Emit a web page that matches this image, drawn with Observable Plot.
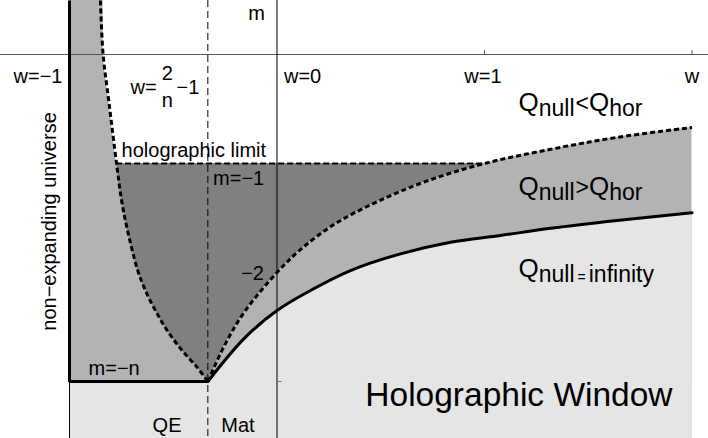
<!DOCTYPE html>
<html>
<head>
<meta charset="utf-8">
<script src="https://cdn.jsdelivr.net/npm/d3@7"></script>
<script src="https://cdn.jsdelivr.net/npm/@observablehq/plot@0.6"></script>
<style>
  html, body { margin: 0; padding: 0; background: #fff; }
  svg { display: block; }
</style>
</head>
<body>
<div id="chart"></div>
<script>
// ---------- data ----------
const nIndex = 3;                       // m = -n floor, w = 2/n - 1
const wEnd = 2;                         // right end of w axis
const holoM = -1;                       // holographic limit m = -1
const holoW = [-0.773, 1.0];            // where the limit meets the dashed curves

// left dashed boundary
const leftW = [-0.851, -0.838, -0.811, -0.773, -0.749, -0.717, -0.671, -0.634, -0.586, -0.529, -0.457, -0.385, -0.333];
const leftM = [0.495, 0.0, -0.422, -1.003, -1.339, -1.642, -1.982, -2.165, -2.349, -2.532, -2.716, -2.869, -3.0];

// right dashed boundary (Q_null = Q_hor)
const rightW = [-0.333, -0.256, -0.160, 0.0, 0.113, 0.274, 0.483, 0.724, 1.0, 1.318, 1.639, 2.0];
const rightM = [-3.0, -2.68, -2.37, -2.0, -1.79, -1.56, -1.35, -1.16, -1.0, -0.87, -0.76, -0.67];

// solid boundary (Q_null = infinity)
const solidW = [-0.333, -0.160, 0.0, 0.161, 0.354, 0.595, 0.836, 1.077, 1.318, 1.639, 2.0];
const solidM = [-3.0, -2.609, -2.349, -2.165, -1.982, -1.829, -1.722, -1.660, -1.595, -1.523, -1.452];

// axis ticks and labels
const wTicks = [-1, 0, 1, 2];
const wTickLabels = ["w=−1", "w=0", "w=1", "w"];
const mTicks = [-2, -3];
const mTickLabels = ["−2", ""];

// region labels (big Q, subscript, operator, big Q, subscript)
const regionLabels = [
  ["Q", "null", "<", "Q", "hor"],
  ["Q", "null", ">", "Q", "hor"],
  ["Q", "null", "=", "infinity"]
];

// ---------- derived tables ----------
const wQE = 2 / nIndex - 1;
const mFloor = -nIndex;
const left = leftW.map((w, i) => ({w, m: leftM[i]}));
const right = rightW.map((w, i) => ({w, m: rightM[i]}));
const solid = solidW.map((w, i) => ({w, m: solidM[i]}));

const X0 = -1.33253, X1 = 2.07952, Y0 = -3.52294, Y1 = 0.49541;
const floorEdge = [{w: -1, m: Y1}, {w: -1, m: mFloor}, {w: wQE, m: mFloor}];

const light = "#e5e5e5", mid = "#b3b3b3", dark = "#808080";
const FONT = "'Liberation Sans', Arial, Helvetica, sans-serif";
const CURVE = "catmull-rom";

const T = (txt, o) => Plot.text([txt], {text: d => d, fill: "#000", fontSize: 20, ...o});
const dashed = {stroke: "#000", strokeWidth: 3, strokeDasharray: "5,3", strokeLinecap: "butt", strokeLinejoin: "miter", curve: CURVE};

const chart = Plot.plot({
  width: 708,
  height: 438,
  margin: 0,
  x: {domain: [X0, X1], axis: null},
  y: {domain: [Y0, Y1], axis: null},
  style: {fontFamily: FONT, fontSize: "20px", background: "#fff", color: "#000"},
  marks: [
    // shaded regions
    Plot.rect([0], {x1: holoW[0], x2: holoW[1], y1: mFloor, y2: holoM, fill: dark}),
    Plot.rect([0], {x1: -1, x2: leftW[1], y1: mFloor, y2: Y1, fill: mid}),
    Plot.areaY(left, {x: "w", y1: mFloor, y2: "m", fill: mid, curve: CURVE}),
    Plot.areaY(right, {x: "w", y1: Y0, y2: "m", fill: mid, curve: CURVE}),
    Plot.rect([0], {x1: -1, x2: wEnd, y1: Y0, y2: mFloor, fill: light}),
    Plot.areaY(solid, {x: "w", y1: Y0, y2: "m", fill: light, curve: CURVE}),

    // axes
    Plot.ruleY([0], {stroke: "#555", strokeWidth: 1}),
    Plot.ruleX([0], {stroke: "#000", strokeWidth: 1}),
    Plot.ruleX([wQE], {stroke: "#000", strokeWidth: 1, strokeDasharray: "7,4"}),
    Plot.ruleX(wTicks.slice(2), {y1: 0, y2: 0.035, stroke: "#555"}),
    Plot.ruleY(mTicks.slice(1), {x1: 0, x2: 0.025, stroke: "#777"}),
    Plot.ruleX([-1], {y1: Y0, y2: mFloor, stroke: "#000", strokeWidth: 1}),

    // boundaries
    Plot.line(floorEdge, {x: "w", y: "m", stroke: "#000", strokeWidth: 3, strokeLinejoin: "miter", strokeLinecap: "butt"}),
    Plot.line(solid, {x: "w", y: "m", stroke: "#000", strokeWidth: 3, curve: CURVE}),
    Plot.line(left, {x: "w", y: "m", ...dashed}),
    Plot.line(right, {x: "w", y: "m", ...dashed}),
    Plot.ruleY([holoM], {x1: holoW[0], x2: holoW[1], stroke: "#000", strokeWidth: 1.8, strokeDasharray: "6,3", strokeLinecap: "butt"}),

    // axis labels
    T("m", {x: 0, y: 0.371, dx: -20.5, textAnchor: "middle"}),
    T(wTickLabels[0], {x: wTicks[0], y: -0.205, dx: -7, textAnchor: "end"}),
    T(wTickLabels[1], {x: wTicks[1], y: -0.205, dx: 7, textAnchor: "start"}),
    T(wTickLabels[2], {x: wTicks[2], y: -0.205, dx: -1.5, textAnchor: "middle"}),
    T(wTickLabels[3], {x: wTicks[3], y: -0.205, textAnchor: "middle"}),
    T(mTickLabels[0], {x: 0, y: mTicks[0], dx: -13, dy: 1, textAnchor: "end"}),

    // annotations
    T("w=", {x: -0.706, y: -0.302, textAnchor: "start"}),
    T("2", {x: -0.529, y: -0.171, textAnchor: "middle"}),
    T("n", {x: -0.529, y: -0.425, textAnchor: "middle"}),
    T("−1", {x: -0.484, y: -0.302, textAnchor: "start"}),
    T("holographic limit", {x: -0.749, y: -0.883, textAnchor: "start"}),
    T("m=−1", {x: -0.308, y: -1.134, textAnchor: "start"}),
    T("m=−n", {x: -0.908, y: -2.886, textAnchor: "start"}),
    T("QE", {x: -0.530, y: -3.40, textAnchor: "middle"}),
    T("Mat", {x: -0.188, y: -3.40, textAnchor: "middle"}),
    T("non−expanding universe", {x: -1.098, y: -1.532, rotate: -90, textAnchor: "middle"}),
    T(regionLabels[0].join(""), {x: 1.164, y: -0.438, fontSize: 26, textAnchor: "start"}),
    T(regionLabels[1].join(""), {x: 1.164, y: -1.217, fontSize: 26, textAnchor: "start"}),
    T(regionLabels[2].join(""), {x: 1.164, y: -1.961, fontSize: 26, textAnchor: "start"}),
    T("Holographic Window", {x: 1.166, y: -3.128, fontSize: 33.5, textAnchor: "middle"})
  ]
});

// rebuild the region labels with subscripts
const joined = regionLabels.map(p => p.join(""));
chart.querySelectorAll("text").forEach(t => {
  const k = joined.indexOf(t.textContent);
  if (k < 0) return;
  const parts = regionLabels[k];
  const sel = d3.select(t);
  sel.text(null);
  const sub = 23;
  sel.append("tspan").text(parts[0]);
  sel.append("tspan").attr("font-size", sub).attr("dy", 5).text(parts[1]);
  if (parts.length === 5) {
    sel.append("tspan").attr("font-size", sub).attr("dy", -5).attr("dx", 1).text(parts[2]);
    sel.append("tspan").text(parts[3]);
    sel.append("tspan").attr("font-size", sub).attr("dy", 5).text(parts[4]);
  } else {
    sel.append("tspan").attr("font-size", 14).attr("dx", 3).text(parts[2]);
    sel.append("tspan").attr("font-size", sub).attr("dx", 3).text(parts[3]);
  }
});

document.getElementById("chart").appendChild(chart);
</script>
</body>
</html>
